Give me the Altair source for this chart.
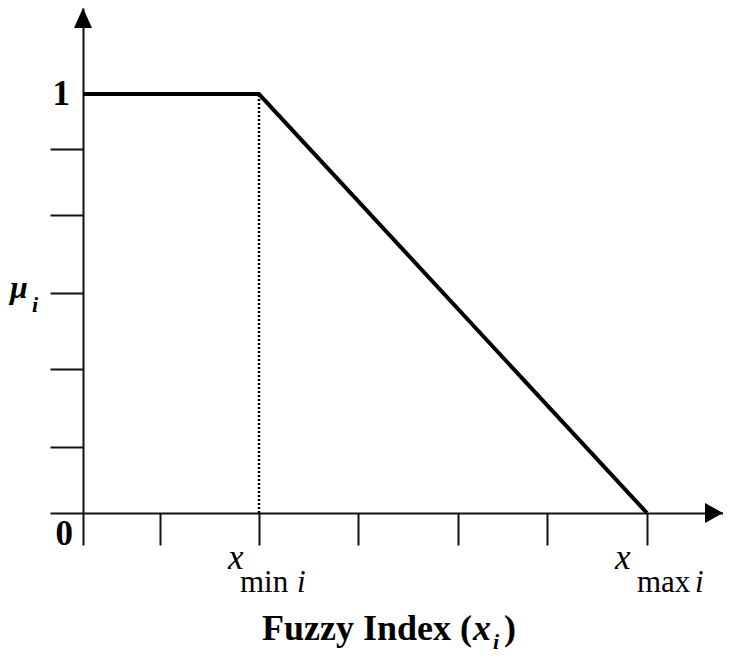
import altair as alt
import pandas as pd

# ---- data ----
curve_x = [0.0, 0.312, 1.0]          # membership function break points
curve_y = [1.0, 1.0, 0.0]
x_ticks = [0.0, 0.137, 0.312, 0.488, 0.665, 0.823, 1.0]
y_ticks = [0.158, 0.344, 0.525, 0.711, 0.869]
x_min_value = 0.312
x_max_value = 1.0
y_one = 1.0
mu_level = 0.525

X_DOMAIN = [-0.0585, 1.1348]
Y_DOMAIN = [0.0, 1.2053]
FONT = "Liberation Serif"
INK = "#111111"

xs = alt.Scale(domain=X_DOMAIN, nice=False, zero=False)
ys = alt.Scale(domain=Y_DOMAIN, nice=False, zero=False)

x_axis = alt.Axis(values=x_ticks, tickSize=32, tickWidth=2, tickColor=INK,
                  domainColor=INK, domainWidth=2, labels=False, grid=False,
                  title=None)
y_axis = alt.Axis(values=y_ticks, tickSize=33, tickWidth=2, tickColor=INK,
                  domainColor=INK, domainWidth=2, labels=False, grid=False,
                  title=None, offset=-33)


def X(f="x"):
    return alt.X(f"{f}:Q", scale=xs, axis=x_axis)


def Y(f="y"):
    return alt.Y(f"{f}:Q", scale=ys, axis=y_axis)


curve_df = pd.DataFrame({"x": curve_x, "y": curve_y, "order": list(range(len(curve_x)))})
curve = alt.Chart(curve_df).mark_line(color="black", strokeWidth=4).encode(
    x=X(), y=Y(), order="order:Q")

dotted_df = pd.DataFrame({"x": [x_min_value], "y": [0.0], "y2": [y_one]})
dotted = alt.Chart(dotted_df).mark_rule(color="black", strokeWidth=2.5, strokeDash=[2, 2]).encode(
    x=X(), y=Y(), y2="y2:Q")

top_arrow = alt.Chart(pd.DataFrame({"x": [0.0], "y": [Y_DOMAIN[1]]})).mark_point(
    shape="M0,0L-0.9,2L0.9,2Z", size=400, filled=True, color="black", opacity=1
).encode(x=X(), y=Y())

right_arrow = alt.Chart(pd.DataFrame({"x": [X_DOMAIN[1]], "y": [0.0]})).mark_point(
    shape="M0,0L-2,-1.1L-2,1.1Z", size=324, filled=True, color="black", opacity=1
).encode(x=X(), y=Y())


def label(x, y, text, size, dx, dy, align="left", weight="normal", style="normal"):
    return alt.Chart(pd.DataFrame({"x": [x], "y": [y]})).mark_text(
        text=text, font=FONT, fontSize=size, fontWeight=weight, fontStyle=style,
        align=align, baseline="alphabetic", dx=dx, dy=dy, color="black"
    ).encode(x=X(), y=Y())


labels = [
    label(0.0, y_one, "1", 35, -13, 10.5, align="right", weight="bold"),
    label(0.0, 0.0, "0", 35, -10, 32, align="right", weight="bold"),
    label(0.0, mu_level, "μ", 32, -73, 5, weight="bold", style="italic"),
    label(0.0, mu_level, "i", 22, -51, 19, weight="bold", style="italic"),
    label(x_min_value, 0.0, "x", 35, -31, 56, style="italic"),
    label(x_min_value, 0.0, "min", 31, -19, 79),
    label(x_min_value, 0.0, "i", 31, 38, 79, style="italic"),
    label(x_max_value, 0.0, "x", 35, -32, 56, style="italic"),
    label(x_max_value, 0.0, "max", 31, -10, 79),
    label(x_max_value, 0.0, "i", 31, 48, 79, style="italic"),
]


def title_piece(text, px, py, size, weight="bold", style="normal"):
    return alt.Chart(pd.DataFrame({"t": [text]})).mark_text(
        font=FONT, fontSize=size, fontWeight=weight, fontStyle=style,
        align="left", baseline="alphabetic", color="black"
    ).encode(x=alt.value(px), y=alt.value(py), text="t:N")


title = [
    title_piece("Fuzzy Index (", 212, 632, 36),
    title_piece("x", 423, 632, 36, style="italic"),
    title_piece("i", 443, 641, 22, style="italic"),
    title_piece(")", 454, 632, 36),
]

chart = alt.layer(curve, dotted, top_arrow, right_arrow, *labels, *title).properties(
    width=673, height=505,
    padding={"left": 42, "top": 0, "right": 0, "bottom": 140},
    autosize=alt.AutoSizeParams(type="none"),
    background="white",
).configure_view(stroke=None)

chart.save("out.html", embed_options={"renderer": "svg", "actions": False})
